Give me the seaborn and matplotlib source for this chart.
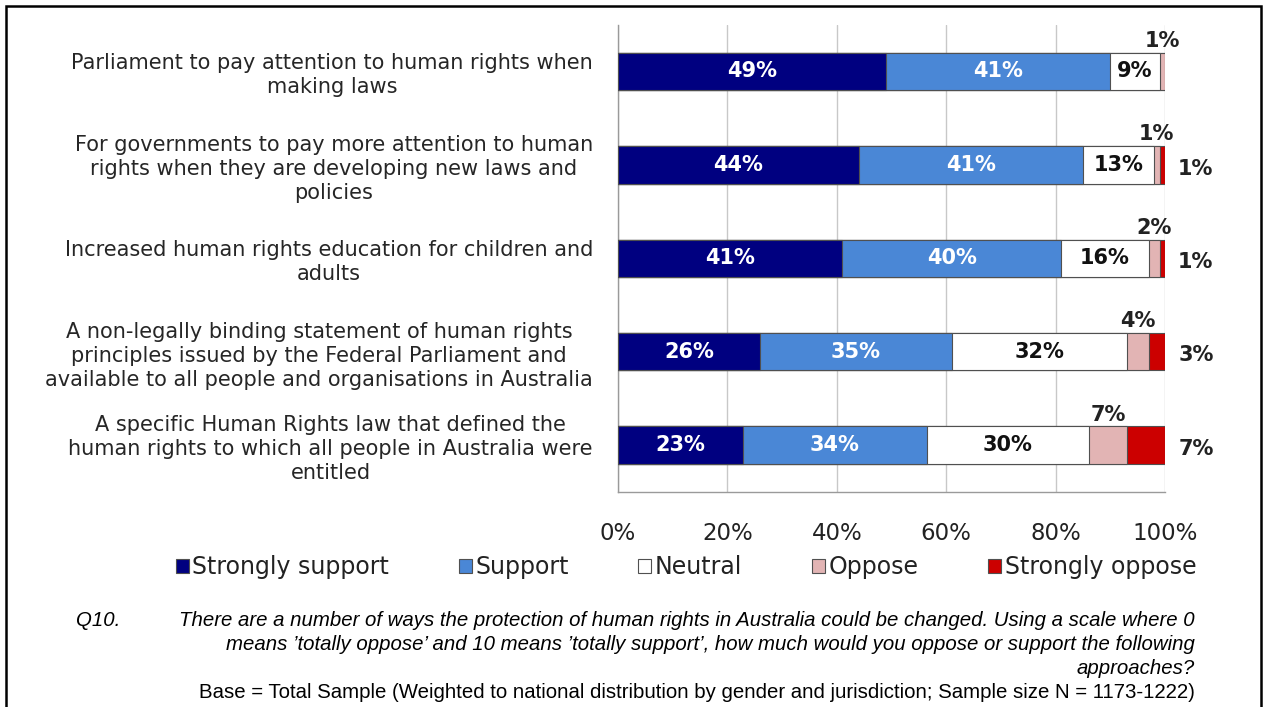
import numpy as np
import pandas as pd
import matplotlib
matplotlib.use("Agg")
import matplotlib.pyplot as plt
import seaborn as sns
from matplotlib.patches import Patch, Rectangle
from matplotlib.ticker import FixedLocator

# ---------------- data ----------------
categories = [
    "Parliament to pay attention to human rights when\nmaking laws",
    "For governments to pay more attention to human\nrights when they are developing new laws and\npolicies",
    "Increased human rights education for children and\nadults",
    "A non-legally binding statement of human rights\nprinciples issued by the Federal Parliament and\navailable to all people and organisations in Australia",
    "A specific Human Rights law that defined the\nhuman rights to which all people in Australia were\nentitled",
]
series_names = ["Strongly support", "Support", "Neutral", "Oppose", "Strongly oppose"]
strongly_support = [49, 44, 41, 26, 23]
support = [41, 41, 40, 35, 34]
neutral = [9, 13, 16, 32, 30]
oppose = [1, 1, 2, 4, 7]
strongly_oppose = [0, 1, 1, 3, 7]
x_ticks = [0, 20, 40, 60, 80, 100]
x_tick_labels = ["0%", "20%", "40%", "60%", "80%", "100%"]
footnote_q = "Q10."
footnote_lines = [
    "There are a number of ways the protection of human rights in Australia could be changed. Using a scale where 0",
    "means \u2019totally oppose\u2019 and 10 means \u2019totally support\u2019, how much would you oppose or support the following",
    "approaches?",
]
footnote_base = "Base = Total Sample (Weighted to national distribution by gender and jurisdiction; Sample size N = 1173-1222)"

colors = ["#000080", "#4a87d6", "#ffffff", "#e2b4b4", "#cc0000"]
label_colors = ["white", "white", "#111111"]

# ---------------- figure ----------------
sns.set_style("white")
plt.rcParams["font.family"] = ["DejaVu Sans"]

W, H = 1267, 707
fig = plt.figure(figsize=(W / 100, H / 100), dpi=100)
ax = fig.add_axes([618 / W, 1 - 491.75 / H, 547 / W, (491.75 - 24.75) / H])

vals = np.array([strongly_support, support, neutral, oppose, strongly_oppose], dtype=float)
pct = vals / vals.sum(axis=0) * 100
cum = pct.cumsum(axis=0)
left = cum - pct

bar_w = 0.40
edge = "#505050"
for i in reversed(range(len(series_names))):
    df = pd.DataFrame({"category": categories, "value": cum[i]})
    sns.barplot(data=df, x="value", y="category", orient="h", color=colors[i],
                saturation=1, width=bar_w, edgecolor=edge, linewidth=0.8,
                errorbar=None, ax=ax, zorder=3)

n = len(categories)
ax.set_xlim(0, 100)
ax.set_ylim(n - 0.5, -0.5)

# grid + spines
ax.set_axisbelow(True)
ax.xaxis.grid(True, color="#c8c8c8", linewidth=1)
ax.yaxis.grid(False)
for s in ["top", "right"]:
    ax.spines[s].set_visible(False)
for s in ["left", "bottom"]:
    ax.spines[s].set_color("#9a9a9a")
    ax.spines[s].set_linewidth(1)

ax.set_xticks(x_ticks)
ax.set_xticklabels(x_tick_labels)
ax.tick_params(axis="x", direction="out", length=6, width=1, color="#9a9a9a",
               pad=16, labelsize=16.5, labelcolor="#222222")
ax.set_yticks(range(n))
ax.set_yticklabels(categories)
ax.tick_params(axis="y", which="major", length=0, pad=18, labelsize=15, labelcolor="#262626")
ax.yaxis.set_minor_locator(FixedLocator(np.arange(-0.5, n, 1.0)))
ax.tick_params(axis="y", which="minor", direction="out", length=6, width=1, color="#9a9a9a")
for lab in ax.get_yticklabels():
    lab.set_multialignment("center")
    lab.set_linespacing(1.25)
ax.set_xlabel("")
ax.set_ylabel("")

# data labels
for r in range(n):
    for i in range(3):
        ax.text(left[i, r] + pct[i, r] / 2, r, f"{vals[i, r]:.0f}%", ha="center", va="center",
                color=label_colors[i], fontsize=15, fontweight="bold", zorder=5)
    if vals[3, r] > 0:
        ax.text(left[3, r] + pct[3, r] / 2, r - bar_w / 2 - 0.02, f"{vals[3, r]:.0f}%",
                ha="center", va="bottom", color="#222222", fontsize=15, fontweight="bold", zorder=5)
    if vals[4, r] > 0:
        ax.text(102.4, r + 0.04, f"{vals[4, r]:.0f}%", ha="left", va="center",
                color="#222222", fontsize=15, fontweight="bold", zorder=5)

# legend
handles = [Patch(facecolor=c, edgecolor=edge, linewidth=0.8) for c in colors]
fig.legend(handles, series_names, loc="center", bbox_to_anchor=(686 / W, 1 - 567 / H),
           ncol=5, frameon=False, fontsize=17, handlelength=0.55, handleheight=0.55,
           handletextpad=0.15, columnspacing=2.95, labelcolor="#222222")

# footnote
fn_size = 14.7
fig.text(76 / W, 1 - 621 / H, footnote_q, ha="left", va="center", fontsize=fn_size,
         style="italic", family="Liberation Sans", color="black")
for k, line in enumerate(footnote_lines):
    fig.text(1195 / W, 1 - (621 + 24 * k) / H, line, ha="right", va="center", fontsize=fn_size,
             style="italic", family="Liberation Sans", color="black")
fig.text(1195 / W, 1 - 692 / H, footnote_base, ha="right", va="center", fontsize=fn_size,
         family="Liberation Sans", color="black")

# outer border
fig.patches.append(Rectangle((6 / W, -0.05), (1261 - 6) / W, 1.05 - 6 / H,
                             transform=fig.transFigure, fill=False, edgecolor="black",
                             linewidth=1.8, zorder=10))

fig.savefig("out.png", dpi=100)
